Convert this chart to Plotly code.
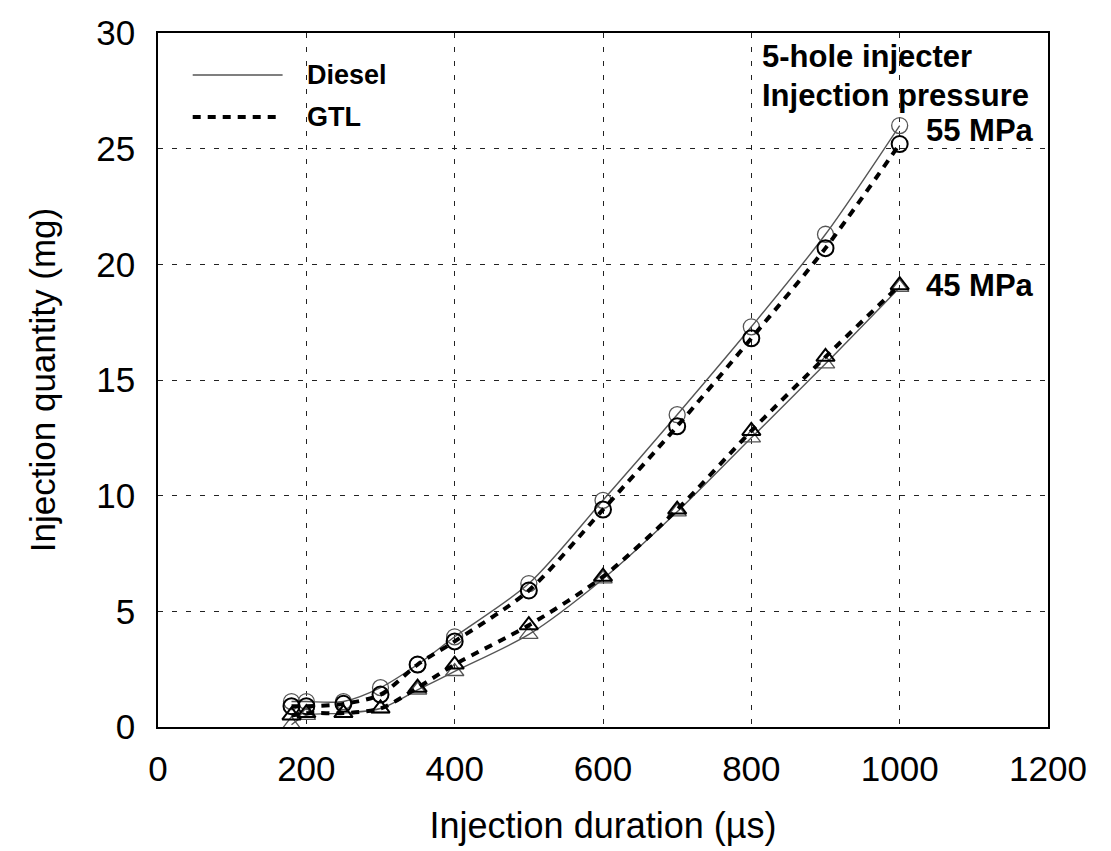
import plotly.graph_objects as go

duration = [180, 200, 250, 300, 350, 400, 500, 600, 700, 800, 900, 1000]

diesel_55 = [1.1, 1.1, 1.1, 1.7, 2.7, 3.9, 6.2, 9.8, 13.5, 17.3, 21.3, 26.0]
gtl_55 = [0.9, 0.9, 1.0, 1.4, 2.7, 3.7, 5.9, 9.4, 13.0, 16.8, 20.7, 25.2]
diesel_45 = [0.1, 0.5, 0.6, 0.8, 1.6, 2.4, 4.0, 6.4, 9.3, 12.5, 15.7, 19.0]
gtl_45 = [0.5, 0.6, 0.6, 0.8, 1.7, 2.7, 4.4, 6.5, 9.4, 12.8, 16.0, 19.1]

x_ticks = [0, 200, 400, 600, 800, 1000, 1200]
y_ticks = [0, 5, 10, 15, 20, 25, 30]

FONT = "Liberation Sans, Arial, sans-serif"
DIESEL_COLOR = "#555555"
GTL_DASH = "8px,7px"

fig = go.Figure()

series = [
    (diesel_55, "circle-open", "diesel"),
    (gtl_55, "circle-open", "gtl"),
    (diesel_45, "triangle-up-open", "diesel"),
    (gtl_45, "triangle-up-open", "gtl"),
]

for vals, sym, kind in series:
    if kind == "diesel":
        line = dict(color=DIESEL_COLOR, width=1.4, shape="spline", smoothing=0.8)
        marker = dict(symbol=sym, size=16, color=DIESEL_COLOR, line=dict(width=1.3, color=DIESEL_COLOR))
    else:
        line = dict(color="black", width=4, dash=GTL_DASH, shape="spline", smoothing=0.8)
        marker = dict(symbol=sym, size=16, color="black", line=dict(width=2, color="black"))
    fig.add_trace(go.Scatter(x=duration, y=vals, mode="lines+markers",
                             line=line, marker=marker, showlegend=False))

# legend drawn as shapes + text
fig.add_shape(type="line", xref="paper", yref="paper", x0=0.039, x1=0.140, y0=0.9395, y1=0.9395,
              line=dict(color=DIESEL_COLOR, width=1.4))
fig.add_shape(type="line", xref="paper", yref="paper", x0=0.039, x1=0.140, y0=0.879, y1=0.879,
              line=dict(color="black", width=4, dash=GTL_DASH))
fig.add_annotation(xref="paper", yref="paper", x=0.165, y=0.9395, text="<b>Diesel</b>", showarrow=False,
                   xanchor="left", yanchor="middle", font=dict(family=FONT, size=27, color="black"))
fig.add_annotation(xref="paper", yref="paper", x=0.165, y=0.879, text="<b>GTL</b>", showarrow=False,
                   xanchor="left", yanchor="middle", font=dict(family=FONT, size=27, color="black"))

ann_font = dict(family=FONT, size=31, color="black")
fig.add_annotation(x=812, y=29.0, text="<b>5-hole injecter</b>", showarrow=False,
                   xanchor="left", yanchor="middle", font=ann_font)
fig.add_annotation(x=812, y=27.3, text="<b>Injection pressure</b>", showarrow=False,
                   xanchor="left", yanchor="middle", font=ann_font)
fig.add_annotation(x=1184, y=25.8, text="<b>55 MPa</b>", showarrow=False,
                   xanchor="right", yanchor="middle", font=ann_font)
fig.add_annotation(x=1184, y=19.1, text="<b>45 MPa</b>", showarrow=False,
                   xanchor="right", yanchor="middle", font=ann_font)

axis_common = dict(
    showline=True, linecolor="black", linewidth=1.5, mirror=True,
    showgrid=True, gridcolor="#222222", gridwidth=1.2, griddash="5px,9px",
    zeroline=False, ticks="outside", tickcolor="rgba(0,0,0,0)",
    tickfont=dict(family=FONT, size=35, color="black"),
)

fig.update_xaxes(range=[0, 1200], tickvals=x_ticks, ticktext=[str(v) for v in x_ticks], ticklen=10,
                 title=dict(text="Injection duration (µs)", font=dict(family=FONT, size=36, color="black"),
                            standoff=26),
                 **axis_common)
fig.update_yaxes(range=[0, 30], tickvals=y_ticks, ticktext=[str(v) for v in y_ticks], ticklen=14,
                 title=dict(text="Injection quantity (mg)", font=dict(family=FONT, size=35, color="black"),
                            standoff=30),
                 **axis_common)

fig.update_layout(
    width=1111, height=851,
    margin=dict(l=158, r=63, t=33, b=124, autoexpand=False),
    plot_bgcolor="white", paper_bgcolor="white",
    font=dict(family=FONT, color="black"),
)

fig.write_html("out.html")
